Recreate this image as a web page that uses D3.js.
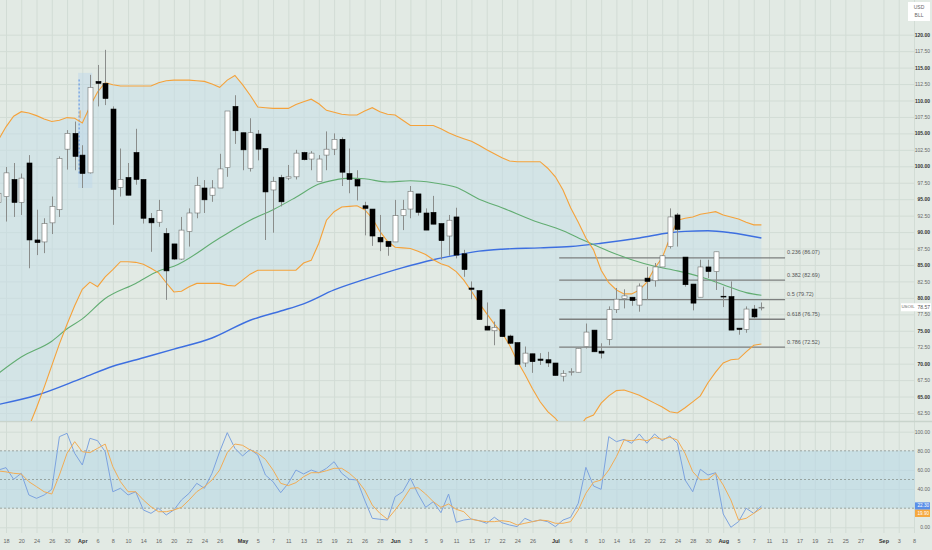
<!DOCTYPE html>
<html>
<head>
<meta charset="utf-8">
<script src="https://cdn.jsdelivr.net/npm/d3@7"></script>
<style>
  body { margin: 0; background: #e2eae4; }
  svg { display: block; font-family: "Liberation Sans", Arial, sans-serif; }
</style>
</head>
<body>
<svg id="chart"></svg>
<script>
// ----------------------------------------------------------------------------
// DATA  (bars run from -1 to 99, one per trading day)

var firstBar = -1;

var opens = [
  94.5, 95.4, 98.0, 94.5, 100.5, 88.8, 88.5, 91.4, 93.4, 102.6,
  105.0, 101.7, 99.0, 112.9, 112.6, 108.7, 96.8, 98.3, 102.1, 98.0,
  92.1, 91.5, 89.8, 88.2, 85.9, 90.1, 92.9, 96.7, 95.6, 96.7,
  99.8, 109.1, 105.1, 99.7, 104.9, 102.7, 96.4, 98.3, 98.2, 98.4,
  102.1, 101.1, 97.7, 101.7, 102.6, 104.1, 98.9, 98.0, 94.0, 93.5,
  89.2, 88.6, 88.5, 92.5, 93.5, 95.8, 92.9, 93.0, 91.3, 89.4,
  92.3, 86.7, 81.5, 81.1, 75.7, 75.0, 78.2, 74.2, 73.2, 70.1,
  71.5, 70.7, 70.6, 70.1, 68.1, 68.7, 68.7, 72.6, 75.1, 71.9,
  73.7, 78.2, 79.9, 80.1, 78.9, 83.0, 82.6, 84.7, 87.8, 92.6,
  86.2, 82.1, 80.1, 84.7, 84.0, 80.25, 80.2, 75.4, 75.2, 78.3,
  78.5
];
var highs = [
  97.0, 99.9, 100.5, 98.9, 101.7, 93.4, 92.1, 95.4, 101.5, 105.5,
  106.8, 103.2, 113.9, 115.4, 117.7, 109.1, 102.7, 100.5, 105.7, 98.0,
  92.9, 94.9, 90.6, 88.2, 92.3, 93.6, 98.4, 97.9, 97.9, 101.9,
  108.4, 110.8, 105.1, 107.3, 105.5, 102.7, 98.4, 98.7, 100.2, 102.5,
  102.2, 102.3, 101.7, 105.3, 105.0, 104.4, 102.7, 99.4, 94.6, 93.5,
  92.6, 88.6, 94.9, 94.9, 97.0, 95.8, 93.6, 95.5, 91.3, 92.6,
  93.7, 87.3, 82.5, 81.1, 79.3, 76.4, 78.2, 74.4, 73.2, 72.6,
  71.5, 71.6, 71.8, 70.1, 69.0, 69.3, 72.3, 76.1, 75.1, 73.1,
  78.7, 81.5, 81.3, 80.1, 82.2, 84.7, 85.3, 86.5, 93.6, 92.9,
  86.2, 82.1, 85.8, 85.8, 87.0, 81.7, 82.5, 75.4, 78.7, 78.9,
  79.3
];
var lows = [
  93.5, 91.6, 92.3, 92.6, 84.5, 86.5, 86.8, 89.7, 92.3, 99.5,
  99.4, 96.7, 98.9, 109.1, 109.3, 91.1, 95.4, 95.6, 97.2, 91.3,
  87.0, 90.8, 79.7, 85.8, 85.8, 87.8, 92.1, 92.9, 94.6, 96.7,
  98.4, 103.4, 99.4, 99.2, 100.9, 88.8, 89.9, 93.9, 97.9, 98.0,
  100.9, 99.4, 97.7, 99.4, 101.7, 97.0, 95.9, 94.8, 89.5, 87.9,
  87.1, 86.4, 88.5, 90.3, 92.1, 92.5, 90.3, 91.2, 85.8, 86.4,
  86.0, 83.2, 79.8, 76.7, 75.1, 72.8, 74.1, 73.0, 69.9, 69.5,
  68.6, 69.8, 69.5, 68.2, 67.3, 68.2, 68.7, 72.3, 71.8, 70.8,
  72.8, 77.7, 78.4, 78.8, 77.9, 79.7, 81.7, 84.7, 87.5, 87.8,
  81.7, 78.1, 80.1, 83.0, 81.2, 78.6, 75.1, 74.4, 74.7, 76.9,
  78.1
];
var closes = [
  95.9, 99.0, 94.5, 98.2, 88.8, 88.4, 91.3, 93.9, 101.2, 105.0,
  101.5, 98.9, 112.0, 112.6, 110.3, 96.5, 98.0, 95.6, 98.0, 92.1,
  91.4, 93.3, 84.1, 85.9, 90.3, 92.9, 97.1, 94.9, 96.7, 99.6,
  108.4, 105.4, 102.5, 105.1, 102.6, 96.1, 97.7, 94.6, 98.4, 102.0,
  101.0, 102.0, 101.1, 102.6, 104.1, 99.1, 98.0, 97.0, 93.6, 89.4,
  88.5, 87.8, 92.5, 93.4, 96.2, 93.0, 90.3, 91.2, 88.7, 91.8,
  86.5, 84.3, 81.3, 76.7, 75.1, 75.5, 74.1, 73.1, 69.9, 71.6,
  70.3, 70.5, 70.1, 68.2, 68.5, 68.8, 72.3, 74.8, 71.8, 71.6,
  78.2, 79.8, 80.3, 79.6, 81.8, 82.5, 84.7, 86.4, 92.3, 90.4,
  82.0, 79.2, 84.7, 84.0, 87.0, 80.15, 75.1, 75.2, 78.3, 77.1,
  78.57
];

// Bollinger bands, per bar
var upperBand = [
  104.0, 106.0, 107.6, 108.3, 108.1, 107.7, 107.2, 106.8, 107.0, 107.4,
  107.3, 106.6, 109.1, 111.3, 112.7, 112.4, 112.2, 112.2, 112.2, 112.2,
  112.2, 112.7, 113.0, 113.1, 113.1, 113.1, 113.0, 112.9, 112.5, 112.0,
  113.1, 113.8, 112.4, 110.8, 109.0, 108.9, 108.8, 108.8, 108.8, 109.4,
  109.8, 110.2, 109.5, 108.5, 108.2, 107.9, 107.8, 107.8, 108.4, 108.9,
  108.3, 107.9, 107.8, 107.0, 106.2, 106.2, 106.2, 106.2, 105.7, 105.1,
  104.6, 104.2, 103.8, 103.2, 102.5, 101.9, 101.3, 100.8, 100.7, 100.7,
  100.7, 100.7, 99.7, 98.4, 96.4, 93.7, 91.5, 89.1, 87.3, 84.2,
  82.3, 81.2, 80.6, 80.6, 81.2, 82.4, 84.5, 86.1, 89.1, 91.8,
  92.1, 92.3, 92.7, 92.9, 93.1, 92.6, 92.3, 92.0, 91.5, 91.1,
  91.1
];
var lowerBand = [
  50.0, 52.0, 54.3, 57.3, 60.4, 63.3, 66.4, 69.7, 73.0, 76.0,
  78.8, 81.3, 82.4, 81.7, 83.2, 84.3, 85.5, 85.5, 85.4, 85.1,
  84.5, 83.8, 82.3, 80.9, 81.0, 81.7, 82.2, 82.2, 82.2, 82.2,
  81.9, 81.8, 82.7, 83.6, 84.2, 84.2, 84.2, 84.2, 84.2, 84.2,
  85.3, 85.7, 88.3, 91.8, 93.1, 93.8, 93.9, 94.0, 93.4, 92.1,
  90.1, 88.6, 87.7, 87.6, 87.5, 87.1, 86.6, 85.8, 85.2, 84.8,
  84.0, 82.7, 81.0, 79.2, 77.6, 76.0, 74.7, 72.8, 70.4, 68.4,
  66.2, 64.2, 62.7, 61.7, 60.2, 59.6, 60.2, 61.7, 62.2, 64.0,
  65.1, 65.9, 66.0, 65.6, 65.2, 64.6, 64.0, 63.4, 62.7, 62.5,
  63.3, 64.2, 65.1, 67.1, 68.7, 70.1, 70.6, 70.7, 71.8, 72.8,
  73.0
];

// moving averages, read at [bar, price]
var maFast = [
  [-1, 68.5], [2, 71.0], [6, 73.4], [8, 75.3], [10, 76.8], [13, 79.9], [17, 82.2],
  [20, 84.1], [22, 84.8], [28, 89.1], [32, 91.8], [35, 93.4], [38, 95.3], [41, 97.3],
  [43, 97.9], [45, 98.2], [47, 98.1], [50, 97.6], [53, 97.8], [56, 97.5], [59, 96.8],
  [62, 95.0], [65, 93.7], [69, 91.8], [73, 90.2], [76, 88.6], [79, 87.1], [82, 85.8],
  [85, 84.8], [88, 84.1], [91, 83.2], [94, 82.0], [97, 80.8], [99, 80.4]
];
var maSlow = [
  [-1, 63.8], [4, 65.2], [10, 67.8], [14, 69.6], [18, 70.9], [22, 72.2], [27, 73.9],
  [32, 76.6], [36, 78.0], [39, 79.1], [43, 81.2], [47, 82.8], [52, 84.6], [56, 85.8],
  [59, 86.5], [62, 87.1], [65, 87.4], [70, 87.6], [74, 87.8], [78, 88.3], [83, 89.1],
  [87, 89.9], [89, 90.1], [92, 90.2], [95, 89.9], [99, 89.1]
];

// stochastic oscillator, per bar
var stochK = [
  59.9, 62.4, 50.2, 56.5, 33.8, 30.3, 33.8, 39.7, 94.8, 98.3,
  77.4, 65.2, 93.1, 90.6, 79.1, 37.2, 40.8, 33.8, 37.2, 18.1,
  14.6, 19.9, 12.9, 18.1, 28.6, 35.6, 46.0, 40.8, 56.5, 79.1,
  99.0, 82.6, 74.6, 81.6, 75.6, 54.7, 47.7, 36.2, 46.0, 59.9,
  55.8, 59.9, 57.1, 61.7, 68.6, 56.5, 50.2, 49.5, 28.6, 9.4,
  8.4, 7.6, 32.0, 37.2, 51.3, 34.8, 20.9, 26.8, 15.3, 34.8,
  5.2, 7.6, 8.7, 6.9, 4.2, 10.5, 4.8, 2.4, 0.7, 9.4,
  5.9, 7.6, 5.9, 0.7, 7.6, 10.5, 25.1, 62.7, 43.2, 39.7,
  94.8, 89.6, 92.0, 87.9, 97.6, 87.9, 97.6, 90.6, 95.5, 87.9,
  49.5, 37.2, 60.7, 54.7, 57.1, 13.9, 0.0, 5.9, 19.9, 14.6,
  22.3
];
var stochD = [
  58.9, 58.0, 56.5, 55.8, 47.7, 42.5, 37.2, 34.8, 54.7, 77.4,
  89.6, 79.1, 78.1, 82.6, 87.1, 63.4, 47.7, 37.2, 37.2, 28.6,
  21.5, 16.3, 16.3, 18.1, 20.9, 28.6, 37.2, 42.5, 49.5, 59.9,
  78.1, 87.1, 85.8, 80.9, 77.4, 71.1, 59.9, 46.0, 43.6, 46.7,
  52.9, 57.1, 57.1, 59.2, 61.7, 61.7, 56.5, 49.5, 39.0, 23.3,
  14.6, 8.4, 18.1, 28.6, 40.8, 41.4, 34.8, 26.8, 20.9, 24.4,
  18.8, 16.3, 8.4, 6.9, 5.9, 5.9, 6.9, 5.9, 2.4, 4.2,
  5.9, 7.6, 6.9, 4.2, 4.2, 5.9, 18.1, 35.6, 47.1, 49.5,
  59.9, 73.9, 91.3, 90.6, 92.0, 90.6, 94.1, 92.0, 94.1, 91.3,
  77.4, 58.2, 49.5, 50.2, 56.5, 44.2, 28.6, 7.6, 9.4, 14.6,
  19.9
];

// fibonacci retracement
var fibRatios = ["0.236", "0.382", "0.5", "0.618", "0.786"];
var fibPrices = [86.07, 82.69, 79.72, 76.75, 72.52];
var fibBars = [72.5, 102.1];

// small marker box around bar 10
var noteBars = [9.45, 11.3];
var notePrices = [96.7, 114.2];

// axis ticks
var priceTicks = d3.range(62.5, 120.01, 2.5);
var oscTicks = [0, 40, 60, 80, 100];
var oscLevels = [20, 50, 80];
var tickBars = [0, 2, 4, 6, 8, 10, 12, 14, 16, 18, 20, 22, 24, 26, 28, 31, 33, 35, 37, 39,
  41, 43, 45, 47, 49, 51, 53, 55, 57, 59, 61, 63, 65, 67, 69, 72, 74, 76, 78, 80,
  82, 84, 86, 88, 90, 92, 94, 96, 98, 100, 102, 104, 106, 108, 110, 112, 115, 117, 119];
var tickLabels = ["18", "20", "24", "26", "30", "Apr", "6", "8", "10", "14", "16", "20", "22", "24", "26", "May", "5", "7", "11", "13",
  "15", "19", "21", "26", "28", "Jun", "3", "5", "9", "11", "15", "17", "22", "24", "26", "Jul", "6", "8", "10", "14",
  "16", "20", "22", "24", "28", "30", "Aug", "5", "7", "11", "13", "17", "19", "21", "25", "27", "Sep", "3", "8"];
var monthNames = ["Apr", "May", "Jun", "Jul", "Aug", "Sep"];

// ----------------------------------------------------------------------------
// SETUP

var w = 932, h = 550;
var paneRight = 915;
var mainBottom = 421;
var oscTop = 423, oscBottom = 533;
var labelRight = 930;

var svg = d3.select("#chart").attr("width", w).attr("height", h);

var x = d3.scaleLinear().domain([0, 119]).range([6, 914]);
var y = d3.scaleLinear().domain([62.5, 120]).range([413, 34.7]);
var yo = d3.scaleLinear().domain([0, 100]).range([527.3, 431.7]);

var bars = d3.range(opens.length).map(function(i) {
  return {bar: firstBar + i, o: opens[i], h: highs[i], l: lows[i], c: closes[i],
          up: upperBand[i], lo: lowerBand[i], k: stochK[i], d: stochD[i]};
});

svg.append("rect").attr("width", w).attr("height", h).attr("fill", "#e2eae4");

var defs = svg.append("defs");
defs.append("clipPath").attr("id", "clipMain")
  .append("rect").attr("x", 0).attr("y", 0).attr("width", paneRight).attr("height", mainBottom);
defs.append("clipPath").attr("id", "clipOsc")
  .append("rect").attr("x", 0).attr("y", oscTop).attr("width", paneRight).attr("height", oscBottom - oscTop);

// ----------------------------------------------------------------------------
// GRID

var gridV = svg.append("g")
  .attr("transform", "translate(0," + oscBottom + ")")
  .call(d3.axisBottom(x).tickValues(tickBars).tickSize(-oscBottom).tickFormat(""));
gridV.select(".domain").remove();
gridV.selectAll("line").attr("stroke", "#d2dcd5").attr("stroke-width", 1);

var gridH = svg.append("g")
  .attr("transform", "translate(" + paneRight + ",0)")
  .call(d3.axisRight(y).tickValues(priceTicks).tickSize(-paneRight).tickFormat(""));
gridH.select(".domain").remove();
gridH.selectAll("line").attr("stroke", "#d2dcd5").attr("stroke-width", 1);

var gridO = svg.append("g")
  .attr("transform", "translate(" + paneRight + ",0)")
  .call(d3.axisRight(yo).tickValues([0, 40, 60, 100]).tickSize(-paneRight).tickFormat(""));
gridO.select(".domain").remove();
gridO.selectAll("line").attr("stroke", "#d2dcd5").attr("stroke-width", 1);

svg.append("line").attr("x1", 0).attr("x2", w).attr("y1", mainBottom + 0.5).attr("y2", mainBottom + 0.5)
  .attr("stroke", "#c9d4cc").attr("stroke-width", 1.5);

// ----------------------------------------------------------------------------
// MAIN PANE

var main = svg.append("g").attr("clip-path", "url(#clipMain)");

// bollinger fill
main.append("path").datum(bars)
  .attr("fill", "#c6dfe8").attr("fill-opacity", 0.55)
  .attr("d", d3.area()
    .x(function(d) { return x(d.bar); })
    .y0(function(d) { return y(d.lo); })
    .y1(function(d) { return y(d.up); }));

// marker box
main.append("rect")
  .attr("x", x(noteBars[0])).attr("width", x(noteBars[1]) - x(noteBars[0]))
  .attr("y", y(notePrices[1])).attr("height", y(notePrices[0]) - y(notePrices[1]))
  .attr("fill", "#bcd6ea").attr("fill-opacity", 0.45);
main.append("line")
  .attr("x1", x(noteBars[0]) + 1).attr("x2", x(noteBars[0]) + 1)
  .attr("y1", y(113.2)).attr("y2", y(98.9))
  .attr("stroke", "#5a8fe0").attr("stroke-width", 1).attr("stroke-dasharray", "2,2");
main.append("line")
  .attr("x1", x(noteBars[0]) + 2).attr("x2", x(noteBars[0]) + 2)
  .attr("y1", y(108.5)).attr("y2", y(107.3))
  .attr("stroke", "#f2a64a").attr("stroke-width", 1);

// fibonacci levels
fibPrices.forEach(function(p, i) {
  main.append("line")
    .attr("x1", x(fibBars[0])).attr("x2", x(fibBars[1]))
    .attr("y1", y(p)).attr("y2", y(p))
    .attr("stroke", "#7d7f7e").attr("stroke-width", 1.3);
  main.append("text")
    .attr("x", x(fibBars[1]) + 2).attr("y", y(p) - 5)
    .attr("font-size", 5.5).attr("fill", "#555").attr("dominant-baseline", "middle")
    .text(fibRatios[i] + " (" + p.toFixed(2) + ")");
});

var lineBar = d3.line().x(function(d) { return x(d[0]); }).y(function(d) { return y(d[1]); });

// slow and fast averages
main.append("path").datum(maSlow)
  .attr("fill", "none").attr("stroke", "#3d6fe0").attr("stroke-width", 1.4)
  .attr("d", lineBar.curve(d3.curveMonotoneX));
main.append("path").datum(maFast)
  .attr("fill", "none").attr("stroke", "#62ad72").attr("stroke-width", 1.1)
  .attr("d", lineBar.curve(d3.curveMonotoneX));

// band edges
["up", "lo"].forEach(function(key) {
  main.append("path").datum(bars)
    .attr("fill", "none").attr("stroke", "#f5a23a").attr("stroke-width", 1.1)
    .attr("d", d3.line().x(function(d) { return x(d.bar); }).y(function(d) { return y(d[key]); }));
});

// candles
var bw = 5;
var candle = main.selectAll("g.candle").data(bars).enter().append("g").attr("class", "candle");
candle.append("line")
  .attr("x1", function(d) { return Math.round(x(d.bar)) + 0.5; })
  .attr("x2", function(d) { return Math.round(x(d.bar)) + 0.5; })
  .attr("y1", function(d) { return y(d.h); })
  .attr("y2", function(d) { return y(d.l); })
  .attr("stroke", "#8a8d8b").attr("stroke-width", 1);
candle.append("rect")
  .attr("x", function(d) { return Math.round(x(d.bar)) + 0.5 - bw / 2; })
  .attr("width", bw)
  .attr("y", function(d) { return y(Math.max(d.o, d.c)); })
  .attr("height", function(d) { return Math.max(0.8, Math.abs(y(d.o) - y(d.c))); })
  .attr("fill", function(d) { return d.c >= d.o ? "#ffffff" : "#000000"; })
  .attr("stroke", function(d) { return d.c >= d.o ? "#6f7270" : "#000000"; })
  .attr("stroke-width", 0.6);

// ----------------------------------------------------------------------------
// OSCILLATOR PANE

var osc = svg.append("g").attr("clip-path", "url(#clipOsc)");

osc.append("rect")
  .attr("x", 0).attr("width", paneRight)
  .attr("y", yo(80)).attr("height", yo(20) - yo(80))
  .attr("fill", "#b9d8e6").attr("fill-opacity", 0.6);

oscLevels.forEach(function(v) {
  osc.append("line")
    .attr("x1", 0).attr("x2", paneRight).attr("y1", yo(v)).attr("y2", yo(v))
    .attr("stroke", "#8c9590").attr("stroke-width", 0.8).attr("stroke-dasharray", "2,2");
});

osc.append("path").datum(bars)
  .attr("fill", "none").attr("stroke", "#7da3df").attr("stroke-width", 1)
  .attr("d", d3.line().x(function(d) { return x(d.bar); }).y(function(d) { return yo(d.k); }));
osc.append("path").datum(bars)
  .attr("fill", "none").attr("stroke", "#f2ac55").attr("stroke-width", 1)
  .attr("d", d3.line().x(function(d) { return x(d.bar); }).y(function(d) { return yo(d.d); }));

// ----------------------------------------------------------------------------
// AXES  (labels right-aligned so they stay inside the window)

var pAxis = svg.append("g")
  .attr("transform", "translate(" + labelRight + ",0)")
  .call(d3.axisLeft(y).tickValues(priceTicks).tickSize(0).tickPadding(0).tickFormat(d3.format(".2f")));
pAxis.select(".domain").remove();
pAxis.selectAll("text")
  .attr("font-size", 5)
  .attr("font-weight", function(d) { return d % 5 === 0 ? "bold" : "normal"; })
  .attr("fill", function(d) { return d % 5 === 0 ? "#333" : "#666"; });

var oAxis = svg.append("g")
  .attr("transform", "translate(" + labelRight + ",0)")
  .call(d3.axisLeft(yo).tickValues(oscTicks).tickSize(0).tickPadding(0).tickFormat(d3.format(".2f")));
oAxis.select(".domain").remove();
oAxis.selectAll("text").attr("font-size", 5).attr("fill", "#666");

var tAxis = svg.append("g")
  .attr("transform", "translate(0," + (oscBottom + 4) + ")")
  .call(d3.axisBottom(x).tickValues(tickBars).tickSize(0).tickPadding(2)
    .tickFormat(function(d, i) { return tickLabels[i]; }));
tAxis.select(".domain").remove();
tAxis.selectAll("text")
  .attr("font-size", 5.5)
  .attr("font-weight", function(d, i) { return monthNames.indexOf(tickLabels[i]) >= 0 ? "bold" : "normal"; })
  .attr("fill", function(d, i) { return monthNames.indexOf(tickLabels[i]) >= 0 ? "#333" : "#666"; });

// currency box
var cur = svg.append("g");
cur.append("rect").attr("x", 908).attr("y", 2).attr("width", 22).attr("height", 19).attr("fill", "#ffffff");
cur.append("text").attr("x", 919).attr("y", 9).attr("text-anchor", "middle").attr("font-size", 5)
  .attr("fill", "#666").text("USD");
cur.append("text").attr("x", 919).attr("y", 17).attr("text-anchor", "middle").attr("font-size", 5)
  .attr("fill", "#666").text("BLL");

// last price
var lastClose = closes[closes.length - 1];
var lp = svg.append("g").attr("transform", "translate(0," + y(lastClose) + ")");
lp.append("rect").attr("x", 901).attr("y", -4).attr("width", 14).attr("height", 8).attr("fill", "#ffffff");
lp.append("text").attr("x", 908).attr("y", 0).attr("text-anchor", "middle").attr("dominant-baseline", "middle")
  .attr("font-size", 4.4).attr("fill", "#666").text("USOIL");
lp.append("rect").attr("x", 915).attr("y", -4).attr("width", 16).attr("height", 8).attr("fill", "#ffffff");
lp.append("text").attr("x", labelRight).attr("y", 0).attr("text-anchor", "end").attr("dominant-baseline", "middle")
  .attr("font-size", 5).attr("fill", "#555").text(lastClose.toFixed(2));

// oscillator badges
var lastK = stochK[stochK.length - 1], lastD = stochD[stochD.length - 1];
var by = yo(lastK);
svg.append("rect").attr("x", 915).attr("y", by - 3.6).attr("width", 15).attr("height", 7.3).attr("fill", "#5a8fe8");
svg.append("text").attr("x", 929).attr("y", by).attr("text-anchor", "end").attr("dominant-baseline", "middle")
  .attr("font-size", 4.6).attr("fill", "#ffffff").text(lastK.toFixed(2));
svg.append("rect").attr("x", 915).attr("y", by + 3.7).attr("width", 15).attr("height", 7.3).attr("fill", "#f5a83e");
svg.append("text").attr("x", 929).attr("y", by + 7.4).attr("text-anchor", "end").attr("dominant-baseline", "middle")
  .attr("font-size", 4.6).attr("fill", "#ffffff").text(lastD.toFixed(2));
</script>
</body>
</html>
